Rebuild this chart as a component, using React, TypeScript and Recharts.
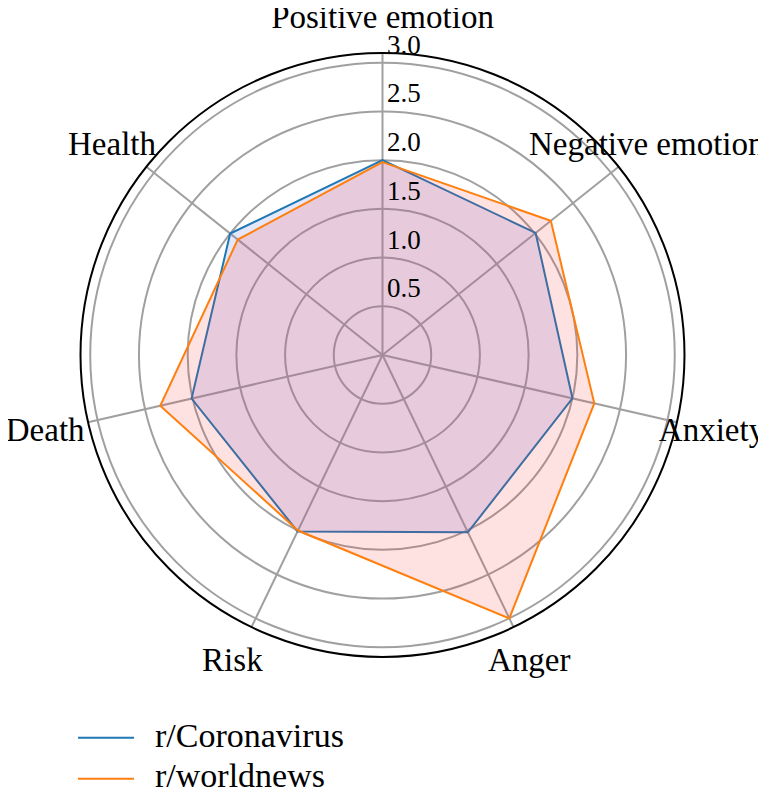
import React from 'react';
import { RadarChart, Radar, PolarGrid, PolarAngleAxis, PolarRadiusAxis } from 'recharts';

const categories = ['Positive emotion', 'Negative emotion', 'Anxiety', 'Anger', 'Risk', 'Death', 'Health'];
const coronavirus = [2.0, 2.01, 2.0, 2.02, 2.01, 2.01, 2.0];
const worldnews = [1.98, 2.21, 2.23, 3.0, 2.0, 2.34, 1.9];
const radiusTicks = [0.5, 1.0, 1.5, 2.0, 2.5, 3.0];
const radiusMax = 3.1;
const seriesNames = ['r/Coronavirus', 'r/worldnews'];
const seriesColors = ['#1f77b4', '#ff7f0e'];

const data = categories.map((c, i) => ({ subject: c, coronavirus: coronavirus[i], worldnews: worldnews[i] }));

const FONT = 'Liberation Serif, Times New Roman, serif';
const W = 758;
const H = 780;
const CX = 374.5;
const CY = 347;
const R = 302;

function AngleTick(props: any) {
  const { x, y, payload } = props;
  const ccx = typeof props.cx === 'number' ? props.cx : CX;
  const ccy = typeof props.cy === 'number' ? props.cy : CY;
  const dx = x - ccx;
  const dy = y - ccy;
  const len = Math.sqrt(dx * dx + dy * dy) || 1;
  const ux = dx / len;
  const uy = dy / len;
  const r = len + 28;
  const tx = ccx + ux * r - 8 * Math.max(0, -ux);
  const ty = ccy + uy * r;
  return (
    <text x={tx} y={ty} textAnchor="middle" dominantBaseline="central" fontFamily={FONT} fontSize={33} fill="#000">
      {payload.value}
    </text>
  );
}

function RadiusTick(props: any) {
  const { x, y, payload } = props;
  return (
    <text x={x + 4.5} y={y - 9} textAnchor="start" fontFamily={FONT} fontSize={27} fill="#000">
      {Number(payload.value).toFixed(1)}
    </text>
  );
}

export default function App() {
  return (
    <div style={{ position: 'relative', width: W, height: H }}>
      <RadarChart width={W} height={H} data={data} cx={CX} cy={CY} outerRadius={R} margin={{ top: 0, right: 0, bottom: 0, left: 0 }}>
        <PolarGrid gridType="circle" stroke="#a0a0a0" strokeWidth={2} />
        <PolarAngleAxis
          dataKey="subject"
          tick={<AngleTick />}
          tickLine={false}
          axisLineType="circle"
          axisLine={{ stroke: '#000', strokeWidth: 2 }}
        />
        <PolarRadiusAxis
          angle={90}
          type="number"
          domain={[0, radiusMax]}
          ticks={radiusTicks}
          tick={<RadiusTick />}
          axisLine={false}
          allowDataOverflow
        />
        <Radar
          name={seriesNames[0]}
          dataKey="coronavirus"
          stroke={seriesColors[0]}
          strokeWidth={2}
          fill="#7a84e0"
          fillOpacity={0.2}
          dot={false}
          isAnimationActive={false}
        />
        <Radar
          name={seriesNames[1]}
          dataKey="worldnews"
          stroke={seriesColors[1]}
          strokeWidth={2}
          fill="#f73535"
          fillOpacity={0.15}
          dot={false}
          isAnimationActive={false}
        />
      </RadarChart>
      <svg style={{ position: 'absolute', left: 0, top: 700, overflow: 'visible' }} width={400} height={80}>
        {seriesNames.map((n, i) => (
          <g key={n}>
            <line x1={70} x2={126} y1={29.7 + i * 41} y2={29.7 + i * 41} stroke={seriesColors[i]} strokeWidth={2} />
            <text x={147} y={39 + i * 40} fontFamily={FONT} fontSize={34} fill="#000">
              {n}
            </text>
          </g>
        ))}
      </svg>
    </div>
  );
}
